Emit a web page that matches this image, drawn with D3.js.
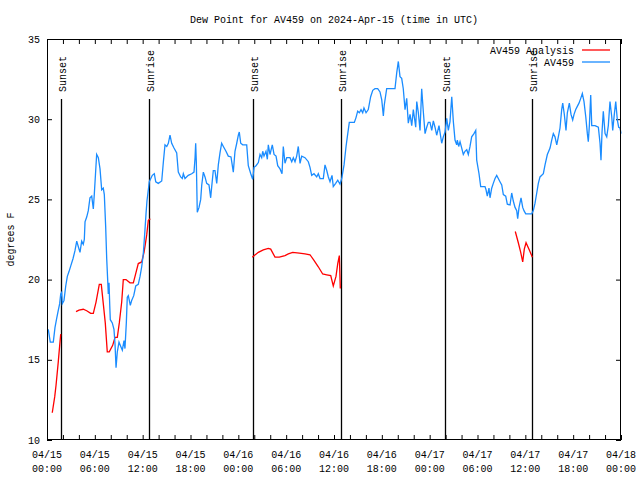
<!DOCTYPE html>
<html><head><meta charset="utf-8">
<script src="https://cdn.jsdelivr.net/npm/d3@7"></script>
<style>
body{margin:0;background:#fff}
svg{display:block}
text{font-family:"Liberation Mono","DejaVu Sans Mono",monospace;font-size:10px;fill:#000}
</style>
</head><body>
<svg id="chart" width="640" height="480"></svg>
<script>
// ---- data ----
const title = "Dew Point for AV459 on 2024-Apr-15 (time in UTC)";
const yLabel = "degrees F";
const startTime = "2024-04-15T00:00:00Z";
const spanHours = 72;
const yTicks = [10, 15, 20, 25, 30, 35];
const xTickHours = [0, 6, 12, 18, 24, 30, 36, 42, 48, 54, 60, 66, 72];
const minorTickHours = d3.range(0, 73, 2);

const sunEvents = ["Sunset", "Sunrise", "Sunset", "Sunrise", "Sunset", "Sunrise"];
const sunHours  = [1.79, 12.83, 25.88, 36.92, 49.96, 60.88];

const seriesNames = ["AV459 Analysis", "AV459"];

// AV459 observations (hours since start, deg F)
const obsHours = [0.16,0.41,0.79,1.00,1.22,1.42,1.59,1.72,1.84,1.92,2.13,2.35,2.55,2.76,3.01,3.26,3.51,3.73,3.93,4.14,4.35,4.55,4.68,4.77,4.98,5.18,5.39,5.61,5.81,5.93,6.11,6.23,6.44,6.65,6.86,7.06,7.19,7.36,7.49,7.61,7.69,7.78,7.87,7.94,8.19,8.40,8.53,8.66,8.82,9.03,9.28,9.45,9.66,9.78,9.95,10.07,10.20,10.45,10.62,10.88,11.13,11.45,11.67,11.88,12.08,12.29,12.42,12.54,12.71,12.83,
  13.21,13.46,13.64,13.96,14.39,14.59,14.80,15.02,15.22,15.43,15.64,15.93,16.27,16.47,16.77,16.97,17.10,17.31,17.72,18.15,18.44,18.57,18.65,18.73,18.85,19.07,19.28,19.41,19.61,19.82,20.03,20.32,20.53,20.66,20.86,21.07,21.29,21.49,21.70,21.91,22.12,22.45,22.74,23.08,23.37,23.58,23.80,24.00,24.12,24.30,24.55,25.05,
  25.25,25.56,25.80,25.97,26.22,26.51,26.72,26.93,27.06,27.22,27.47,27.64,27.76,27.97,28.26,28.48,28.73,28.94,29.23,29.48,29.64,29.85,30.07,30.48,30.70,30.90,31.11,31.32,31.52,31.74,31.95,32.36,32.78,32.99,33.20,33.49,33.83,34.03,34.25,34.66,34.87,35.09,35.29,35.50,35.75,35.91,36.21,36.47,36.75,36.97,37.26,37.51,37.67,37.92,38.55,38.76,38.97,39.18,39.39,39.60,39.76,40.02,40.30,40.60,40.86,41.14,41.48,41.77,41.99,42.19,42.31,42.61,43.65,43.87,44.07,44.28,44.49,44.69,44.91,45.12,45.32,45.54,45.75,45.95,46.25,46.38,46.58,46.79,47.00,47.20,47.42,47.63,47.83,48.04,48.26,48.46,48.67,48.88,49.17,49.51,49.71,
  49.93,50.14,50.34,50.55,50.77,50.97,51.18,51.39,51.47,51.64,51.81,52.02,52.22,52.43,52.65,52.85,53.06,53.27,53.56,53.78,53.90,54.19,54.40,54.94,55.07,55.23,55.44,55.57,55.78,55.98,56.20,56.41,56.61,56.82,57.04,57.24,57.54,57.74,58.08,58.29,58.49,58.71,58.92,59.04,59.21,59.46,59.67,59.83,60.05,60.80,61.00,61.21,61.43,61.63,
  61.84,62.26,62.47,62.76,63.10,63.31,63.51,63.72,63.94,64.14,64.35,64.56,64.69,64.89,65.10,65.27,65.52,65.73,65.94,66.11,66.32,66.52,66.73,66.95,67.15,67.36,67.58,67.78,67.90,68.03,68.20,68.33,68.74,69.16,69.37,69.49,69.62,69.78,70.00,70.21,70.41,70.62,70.84,70.96,71.16,71.34,71.54,71.71,71.88,72.00];
const obsValues = [16.9,16.1,16.1,17.0,17.6,18.1,18.5,19.1,19.2,18.5,18.7,19.6,20.2,20.5,20.9,21.3,21.8,22.4,22.05,21.7,22.4,22.2,22.5,23.6,23.9,24.3,25.1,25.2,24.4,25.3,26.8,27.8,27.6,26.9,25.6,25.7,25.3,23.3,21.3,20.0,19.1,19.8,18.4,17.5,17.3,16.9,16.0,14.5,15.5,16.1,15.8,15.6,16.2,15.7,17.3,18.9,19.0,18.4,18.7,19.0,19.6,19.7,20.2,20.8,21.6,23.1,24.1,24.9,25.6,26.1,
  26.5,26.6,26.1,26.0,26.15,27.3,28.4,28.3,28.5,29.0,28.5,28.2,27.9,26.7,26.4,26.3,26.6,26.3,26.5,26.6,26.7,27.6,28.5,27.35,24.2,24.5,25.0,25.9,26.7,26.4,26.0,25.9,25.1,25.8,26.8,26.8,26.0,27.15,27.9,28.5,28.3,28.0,27.7,27.65,26.7,28.0,28.5,29.0,29.2,28.5,28.4,28.4,
  27.1,26.6,26.25,27.0,27.1,27.3,27.8,27.6,28.0,27.7,28.0,27.5,28.4,27.8,28.4,27.8,27.7,27.1,26.9,26.6,28.3,27.25,27.6,27.6,27.35,27.6,27.35,27.7,28.3,27.25,27.7,27.6,27.35,27.0,26.5,26.6,26.4,26.6,26.3,26.3,27.15,26.8,26.4,26.1,26.5,25.8,26.0,26.2,25.95,26.3,27.15,28.3,28.9,29.8,29.8,30.1,30.5,30.4,30.6,30.4,30.7,30.4,30.6,31.4,31.8,31.9,31.9,31.7,31.2,30.2,30.9,31.9,31.9,32.9,33.6,32.65,32.55,31.9,30.6,31.3,29.75,30.3,29.6,30.6,29.5,31.1,30.4,29.3,31.9,30.5,29.1,29.5,29.8,29.8,29.3,29.9,29.5,29.0,29.6,28.5,28.9,
  29.2,30.05,29.3,29.85,31.4,29.85,28.7,28.4,28.7,28.3,28.6,28.2,27.8,28.0,28.1,27.8,28.3,28.9,29.1,29.3,27.45,26.6,25.8,25.8,25.6,25.2,25.7,25.1,25.7,26.0,26.3,26.5,26.3,26.1,25.9,25.3,25.2,24.7,24.65,25.4,24.9,24.5,24.3,23.8,24.5,25.1,24.5,24.3,24.1,24.1,24.3,24.75,25.4,26.0,
  26.4,26.6,27.15,27.8,28.2,28.7,29.1,28.9,28.4,28.9,29.45,30.6,31.0,30.3,29.3,30.4,31.0,30.3,29.95,30.3,30.6,30.8,31.0,31.3,31.6,31.1,30.15,29.1,28.6,29.6,31.5,29.6,29.6,29.5,28.5,27.45,29.2,30.5,29.1,28.9,29.6,31.1,30.15,29.3,30.3,31.1,29.95,29.5,29.45,29.1];

// AV459 Analysis (null = gap)
const anaHours = [0.66,0.97,1.13,1.42,1.54,1.72, 2.5,
  3.64,4.01,4.55,4.98,5.48,5.81,6.15,6.56,6.81,7.06,7.31,7.56,7.81,8.24,8.53,8.82,9.07,9.37,9.57,9.91,10.41,10.83,11.04,11.45,11.88,12.17,12.33,12.51,12.71,12.96, 19,
  25.75,26.51,27.13,27.76,28.06,28.60,29.14,29.85,30.27,30.82,31.65,32.36,32.99,33.49,34.03,34.58,35.09,35.59,35.91,36.25,36.47,36.67,36.79, 48,
  58.74,59.12,59.42,59.67,59.87,60.09,60.50,60.88];
const anaValues = [11.7,12.7,13.4,14.9,15.6,16.6, null,
  18.0,18.1,18.15,18.06,17.9,17.9,18.6,19.7,19.7,18.5,17.3,15.5,15.5,15.9,16.4,16.4,17.3,18.6,20.0,20.0,19.8,19.8,20.2,21.0,21.1,21.7,22.2,22.8,23.7,23.8, null,
  21.4,21.7,21.85,21.95,21.9,21.4,21.4,21.5,21.6,21.7,21.65,21.6,21.55,21.2,20.8,20.35,20.3,20.25,19.6,20.2,21.0,21.5,19.45, null,
  23.0,22.3,21.7,21.1,21.9,22.3,21.85,21.4];

// ---- drawing ----
const W = 640, H = 480;
const m = {left: 47, right: 621, top: 39, bottom: 440};
const base = new Date(startTime);
const t = h => new Date(base.getTime() + h * 3600e3);

const x = d3.scaleUtc().domain([t(0), t(spanHours)]).range([m.left, m.right]);
const y = d3.scaleLinear().domain([10, 35]).range([m.bottom, m.top]);

const svg = d3.select("#chart");
svg.append("rect").attr("width", W).attr("height", H).attr("fill", "#fff");

// title
svg.append("text").attr("x", (m.left + m.right) / 2).attr("y", 23)
  .attr("text-anchor", "middle").text(title);

// y label
svg.append("text").attr("transform", `translate(10,${(m.top + m.bottom) / 2}) rotate(-90)`)
  .attr("text-anchor", "middle").attr("dy", "0.35em").text(yLabel);

const tick = 5;
const axG = svg.append("g");
// x axes (bottom labels, top mirror), ticks inward
const xBottom = d3.axisBottom(x).tickValues(minorTickHours.map(t)).tickSize(-tick).tickFormat("");
const xTop = d3.axisTop(x).tickValues(minorTickHours.map(t)).tickSize(-tick).tickFormat("");
axG.append("g").attr("transform", `translate(0,${m.bottom})`).call(xBottom);
axG.append("g").attr("transform", `translate(0,${m.top})`).call(xTop);
const yLeft = d3.axisLeft(y).tickValues(yTicks).tickSize(-tick).tickFormat("");
const yRight = d3.axisRight(y).tickValues(yTicks).tickSize(-tick).tickFormat("");
axG.append("g").attr("transform", `translate(${m.left},0)`).call(yLeft);
axG.append("g").attr("transform", `translate(${m.right},0)`).call(yRight);
axG.selectAll(".domain").remove();
axG.selectAll("line").attr("stroke", "#000").attr("stroke-width", 1);

// tick labels
const fmtD = d3.utcFormat("%m/%d"), fmtT = d3.utcFormat("%H:%M");
const xl = svg.append("g").selectAll("text").data(xTickHours).join("text")
  .attr("text-anchor", "middle");
xl.append("tspan").attr("x", d => x(t(d))).attr("y", 458).text(d => fmtD(t(d)));
xl.append("tspan").attr("x", d => x(t(d))).attr("y", 472).text(d => fmtT(t(d)));
svg.append("g").selectAll("text").data(yTicks).join("text")
  .attr("x", 40).attr("y", d => y(d)).attr("dy", "0.35em").attr("text-anchor", "end")
  .text(d => d);

// sunrise/sunset lines
const sg = svg.append("g");
sunHours.forEach((h, i) => {
  const sx = Math.round(x(t(h))) + 0.5;
  sg.append("line").attr("x1", sx).attr("x2", sx).attr("y1", 99).attr("y2", m.bottom)
    .attr("stroke", "#000").attr("stroke-width", 1.3);
  sg.append("text").attr("transform", `translate(${sx},92) rotate(-90)`)
    .attr("dy", "0.4em").text(sunEvents[i]);
});

// series
const line = d3.line().defined(d => d.v != null).x(d => x(t(d.h))).y(d => y(d.v));
const obs = obsHours.map((h, i) => ({h, v: obsValues[i]}));
const ana = anaHours.map((h, i) => ({h, v: anaValues[i]}));
svg.append("path").datum(ana).attr("d", line).attr("fill", "none")
  .attr("stroke", "#ff0000").attr("stroke-width", 1.3);
svg.append("path").datum(obs).attr("d", line).attr("fill", "none")
  .attr("stroke", "#1a8cff").attr("stroke-width", 1.3);

// legend
const lg = svg.append("g");
const colors = ["#ff0000", "#1a8cff"];
seriesNames.forEach((n, i) => {
  const ly = 50 + i * 12;
  lg.append("text").attr("x", 574).attr("y", ly).attr("dy", "0.35em")
    .attr("text-anchor", "end").text(n);
  lg.append("line").attr("x1", 582).attr("x2", 610).attr("y1", ly).attr("y2", ly)
    .attr("stroke", colors[i]).attr("stroke-width", 1.3);
});

// frame
svg.append("rect").attr("x", m.left + 0.5).attr("y", m.top + 0.5)
  .attr("width", m.right - m.left - 1).attr("height", m.bottom - m.top - 1)
  .attr("fill", "none").attr("stroke", "#000").attr("stroke-width", 1);
</script>
</body></html>
